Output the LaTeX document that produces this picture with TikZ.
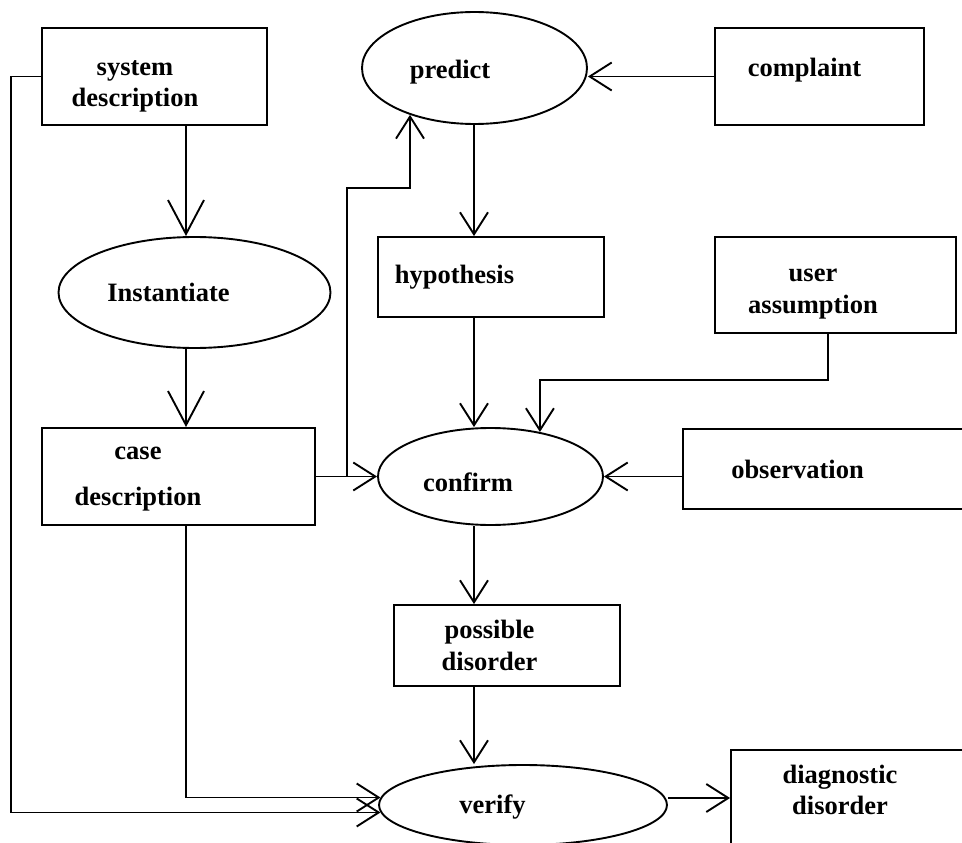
\documentclass[tikz,border=0pt]{standalone}
\usepackage{fontspec}
\setmainfont{Liberation Serif}
\usetikzlibrary{shapes.geometric, arrows.meta}

\begin{document}
\begin{tikzpicture} [x=1pt, y=-1pt, line width=1.9pt,
    box/.style={rectangle, draw},
    oval/.style={ellipse, draw},
    txt/.style={font=\fontsize{26.5}{31.5}\selectfont\bfseries, align=center, inner sep=0pt},
    arr/.style={-{Straight Barb[length=22pt, width=28pt]}},
    bigarr/.style={-{Straight Barb[length=34pt, width=36pt]}}]
\useasboundingbox (0,0) rectangle (962,843);

\node (sysdesc) [box, minimum width=225pt, minimum height=97pt, label={[txt, xshift=-19.5pt, yshift=-10pt]center:system\\description}] at (154.5,76.5) {};
\node (predict) [oval, minimum width=225pt, minimum height=112pt, label={[txt, xshift=-24.5pt, yshift=-4pt]center:predict}] at (474.5,68) {};
\node (complaint) [box, minimum width=209pt, minimum height=97pt, label={[txt, xshift=-15pt, yshift=6.5pt]center:complaint}] at (819.5,76.5) {};
\node (inst) [oval, minimum width=272pt, minimum height=111pt, label={[txt, xshift=-26pt]center:Instantiate}] at (194.5,292.5) {};
\node (hyp) [box, minimum width=226pt, minimum height=80pt, label={[txt, xshift=-36.5pt]center:hypothesis}] at (491,277) {};
\node (ua) [box, minimum width=241pt, minimum height=96pt, label={[txt, xshift=-22.5pt, yshift=-9pt]center:user\\assumption}] at (835.5,285) {};
\node (cd) [box, minimum width=273pt, minimum height=97pt, label={[txt, xshift=-40.5pt, yshift=-2.5pt]center:case\\[15pt]description}] at (178.5,476.5) {};
\node (confirm) [oval, minimum width=225pt, minimum height=97pt, label={[txt, xshift=-22.5pt, yshift=-6pt]center:confirm}] at (490.5,476.5) {};
\node (obs) [box, minimum width=290pt, minimum height=80pt, label={[txt, xshift=-30.5pt]center:observation}] at (828,469) {};
\node (pd) [box, minimum width=226pt, minimum height=81pt, label={[txt, xshift=-17.5pt]center:possible\\disorder}] at (507,645.5) {};
\node (verify) [oval, minimum width=288pt, minimum height=80pt, label={[txt, xshift=-30.5pt, yshift=-2pt]center:verify}] at (523,805) {};
\node (diag) [box, minimum width=240pt, minimum height=96pt, label={[txt, xshift=-11pt, yshift=8pt]center:diagnostic\\disorder}] at (851,798) {};

% turning points of the connectors
\coordinate (leftcol) at (186,0);
\coordinate (midcol) at (474,0);
\coordinate (rail) at (11,0);
\coordinate (kink) at (347,188);
\coordinate (uaturn) at (828,380);

\draw [bigarr] (sysdesc.south -| leftcol) -- (inst.north -| leftcol);
\draw [bigarr] (inst.south -| leftcol) -- (cd.north -| leftcol);
\draw [arr] (complaint.west) -- (complaint.west -| predict.east);
\draw [arr] (predict.south -| midcol) -- (hyp.north -| midcol);
\draw [arr] (hyp.south -| midcol) -- (confirm.north -| midcol);
\draw [arr] (ua.south -| uaturn) -- (uaturn) -| (confirm.42);
\draw [arr] (confirm.east -| obs.west) -- (confirm.east);
\draw [arr] (cd.east) -- (confirm.west);
\draw [arr] (kink |- cd.east) -- (kink) -| (predict.216);
\draw [arr] (confirm.south -| midcol) -- (pd.north -| midcol);
\draw [arr] (pd.south -| midcol) -- (verify.north -| midcol);
\draw [arr] (cd.south -| leftcol) |- (verify.177);
\draw [arr] (sysdesc.west) -- (sysdesc.west -| rail) |- (verify.183);
\draw [arr] (verify.east |- diag.west) -- (diag.west);
\end{tikzpicture}
\end{document}
